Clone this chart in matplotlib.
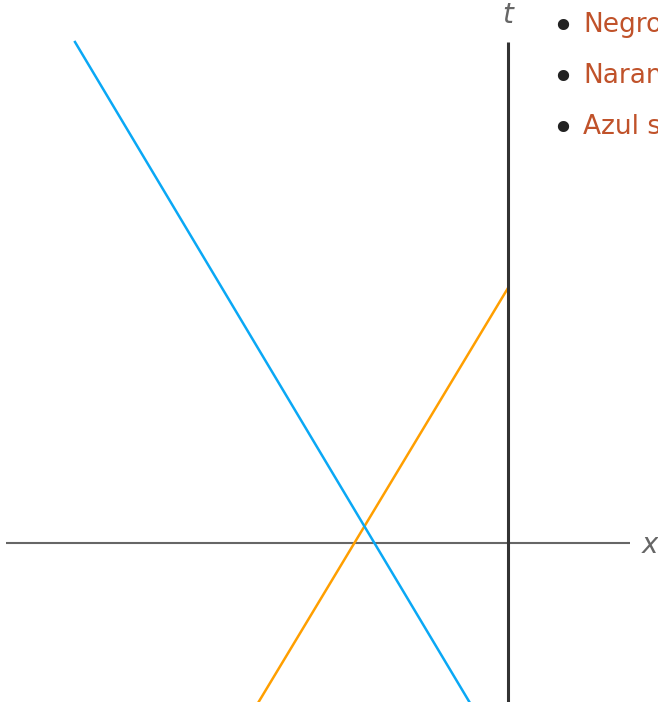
"""Spacetime diagram: x axis, t axis (black worldline) and two light-ish worldlines."""
import matplotlib
matplotlib.use("Agg")
import matplotlib.pyplot as plt

# worldline endpoints (x, t)
black_x = [0.0, 0.0]
black_t = [-1.6, 5.01]
orange_x = [-2.50, 0.0]
orange_t = [-1.60, 2.55]
blue_x = [-4.33, -0.38]
blue_t = [5.01, -1.60]

legend_labels = ["Negro", "Naranja", "Azul s"]

fig = plt.figure(figsize=(6.58, 7.02), dpi=100)
ax = fig.add_axes([0, 0, 1, 1])
ax.set_xlim(-5.08, 1.50)
ax.set_ylim(-1.59, 5.43)
ax.axis("off")

# x axis
ax.plot([-5.02, 1.22], [0, 0], color="#666666", lw=1.5, solid_capstyle="butt", zorder=1)
ax.text(1.42, -0.02, "x", color="#666666", fontsize=20, style="italic",
        ha="center", va="center", family="DejaVu Sans")
ax.text(0.0, 5.28, "t", color="#666666", fontsize=20, style="italic",
        ha="center", va="center", family="DejaVu Sans")

ax.plot(orange_x, orange_t, color="#ff9f00", lw=1.8, zorder=2)
ax.plot(blue_x, blue_t, color="#0aa8f5", lw=1.8, zorder=2)
ax.plot(black_x, black_t, color="#333333", lw=2.2, solid_capstyle="butt", zorder=3)

# bullet list at the top right (cut by the figure edge)
for k, lab in enumerate(legend_labels):
    y = 1 - (25 + 51 * k) / 702
    fig.text(563 / 658, y - 0.004, "\u2022", color="#222222", fontsize=28,
             ha="center", va="center", family="DejaVu Sans")
    fig.text(583 / 658, y, lab, color="#c0522a", fontsize=19, ha="left", va="center",
             family="DejaVu Sans")

fig.savefig("out.png", dpi=100)
